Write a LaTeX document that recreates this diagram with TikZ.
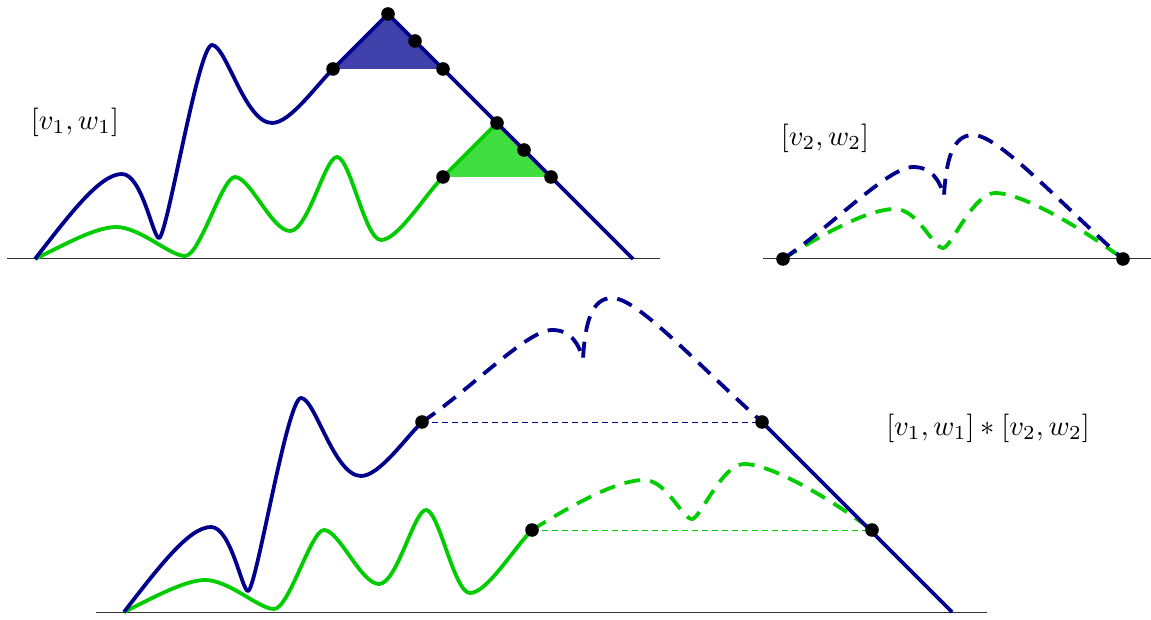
\documentclass[tikz,border=0pt]{standalone}
\definecolor{bl}{RGB}{0,0,140}
\definecolor{gr}{RGB}{0,204,0}
\definecolor{blfill}{RGB}{64,64,170}
\definecolor{grfill}{RGB}{64,222,64}
\begin{document}
\begin{tikzpicture}[x=1pt,y=1pt,
  bline/.style={bl, line width=3.8pt, line join=round},
  gline/.style={gr, line width=3.8pt, line join=round},
  bdash/.style={bline, dash pattern=on 16pt off 10pt},
  gdash/.style={gline, dash pattern=on 16pt off 10pt},
  axisline/.style={black!80, line width=1pt},
  thinb/.style={bl, line width=0.9pt, dash pattern=on 6pt off 4pt},
  thing/.style={gr, line width=0.9pt, dash pattern=on 6pt off 4pt},
  blackdot/.style={fill=black},
  lab/.style={scale=2.85, transform shape, inner sep=0pt}]
\useasboundingbox (0,0) rectangle (1151,619);

% base lines
\coordinate (a1) at (7,360);   \coordinate (a2) at (660,360);
\coordinate (a3) at (763,360); \coordinate (a4) at (1151,360);
\coordinate (a5) at (96,7);    \coordinate (a6) at (987,7);
\draw[axisline] (a1) -- (a2);
\draw[axisline] (a3) -- (a4);
\draw[axisline] (a5) -- (a6);

% ---------- top left: [v1,w1] ----------
\coordinate (tA) at (333,550);
\coordinate (tB) at (388,605);
\coordinate (tC) at (443,550);
\coordinate (tBm) at (415,578);
\coordinate (gA) at (443,442);
\coordinate (gB) at (497,496);
\coordinate (gC) at (551,442);
\coordinate (gBm) at (524,469);
\coordinate (tE) at (633,360);

\fill[blfill] (tA) -- (tB) -- (tC) -- cycle;
\fill[grfill] (gA) -- (gB) -- (gC) -- cycle;

\draw[gline] (35,360) .. controls (60,372) and (95,392) .. (116,392)
  .. controls (140,392) and (170,363) .. (185,363)
  .. controls (200,363) and (222,442) .. (235,442)
  .. controls (250,442) and (272,388) .. (290,388)
  .. controls (308,388) and (325,462) .. (337,462)
  .. controls (350,462) and (365,379) .. (381,379)
  .. controls (398,379) and (425,424) .. (gA) -- (gB);
\draw[bline] (35,360) .. controls (70,405) and (100,445) .. (122,445)
  .. controls (142,445) and (153,381) .. (159,381)
  .. controls (167,381) and (198,574) .. (212,574)
  .. controls (226,574) and (245,496) .. (272,496)
  .. controls (290,496) and (315,532) .. (tA) -- (tB) -- (tE);

\foreach \p in {tA,tB,tC,tBm,gA,gB,gC,gBm} \fill[blackdot] (\p) circle (6.8);

\node[lab] (l1) at (75,497) {$[v_1,w_1]$};

% ---------- top right: [v2,w2] ----------
\begin{scope}[shift={(783,360)}]
\draw[gdash] (0,0) .. controls (40,25) and (85,50) .. (112,50)
  .. controls (135,50) and (150,11) .. (160,11)
  .. controls (168,11) and (190,66) .. (212,66)
  .. controls (240,66) and (300,30) .. (340,0);
\draw[bdash] (0,0) .. controls (48,32) and (105,92) .. (130,92)
  .. controls (148,92) and (156,80) .. (161,63)
  .. controls (163,100) and (170,124) .. (190,124)
  .. controls (215,124) and (270,63) .. (340,0);
\end{scope}
\coordinate (rS) at (783,360);
\coordinate (rE) at (1123,360);
\fill[blackdot] (rS) circle (6.8);
\fill[blackdot] (rE) circle (6.8);
\node[lab] (l2) at (825,481) {$[v_2,w_2]$};

% ---------- bottom: product ----------
\begin{scope}[shift={(89,-353)}]
\draw[gline] (35,360) .. controls (60,372) and (95,392) .. (116,392)
  .. controls (140,392) and (170,363) .. (185,363)
  .. controls (200,363) and (222,442) .. (235,442)
  .. controls (250,442) and (272,388) .. (290,388)
  .. controls (308,388) and (325,462) .. (337,462)
  .. controls (350,462) and (365,379) .. (381,379)
  .. controls (398,379) and (425,424) .. (443,442);
\draw[bline] (35,360) .. controls (70,405) and (100,445) .. (122,445)
  .. controls (142,445) and (153,381) .. (159,381)
  .. controls (167,381) and (198,574) .. (212,574)
  .. controls (226,574) and (245,496) .. (272,496)
  .. controls (290,496) and (315,532) .. (333,550);
\end{scope}
\coordinate (bA) at (422,197);
\coordinate (bB) at (762,197);
\coordinate (bE) at (952,7);
\coordinate (cA) at (532,89);
\coordinate (cB) at (872,89);

\draw[thinb] (bA) -- (bB);
\draw[thing] (cA) -- (cB);

\begin{scope}[shift={(532,89)}]
\draw[gdash] (0,0) .. controls (40,25) and (85,50) .. (112,50)
  .. controls (135,50) and (150,11) .. (160,11)
  .. controls (168,11) and (190,66) .. (212,66)
  .. controls (240,66) and (300,30) .. (340,0);
\end{scope}
\begin{scope}[shift={(422,197)}]
\draw[bdash] (0,0) .. controls (48,32) and (105,92) .. (130,92)
  .. controls (148,92) and (156,80) .. (161,63)
  .. controls (163,100) and (170,124) .. (190,124)
  .. controls (215,124) and (270,63) .. (340,0);
\end{scope}
\draw[bline] (bB) -- (bE);

\foreach \p in {bA,bB,cA,cB} \fill[blackdot] (\p) circle (6.8);

\node[lab] (l3) at (988,191) {$[v_1,w_1]*[v_2,w_2]$};
\end{tikzpicture}
\end{document}
